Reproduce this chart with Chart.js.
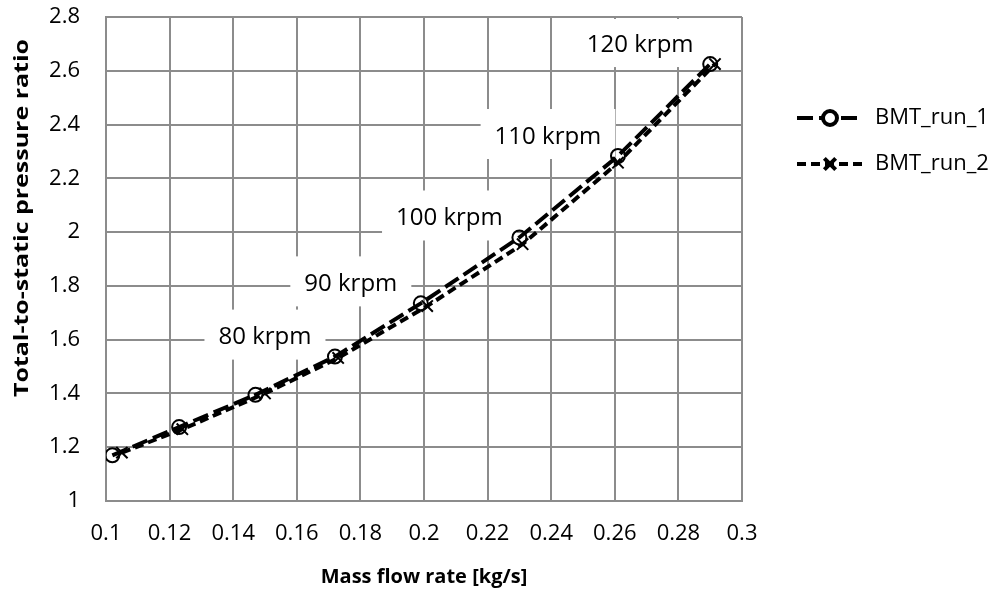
<!DOCTYPE html>
<html>
<head>
<meta charset="utf-8">
<script src="https://cdn.jsdelivr.net/npm/chart.js@4.4.0/dist/chart.umd.min.js"></script>
<style>
  body { margin: 0; background: #fff; }
  #wrap { width: 996px; height: 597px; }
</style>
</head>
<body>
<div id="wrap"><canvas id="chart" width="996" height="597"></canvas></div>
<script>
// values
const run1_flow = [0.102, 0.123, 0.147, 0.172, 0.199, 0.230, 0.261, 0.290];
const run1_ratio = [1.17, 1.275, 1.395, 1.537, 1.735, 1.98, 2.283, 2.625];
const run2_flow = [0.105, 0.124, 0.150, 0.173, 0.201, 0.231, 0.261, 0.2915];
const run2_ratio = [1.18, 1.267, 1.40, 1.532, 1.725, 1.955, 2.258, 2.625];
const speed_labels = ['', '', '', '80 krpm', '90 krpm', '100 krpm', '110 krpm', '120 krpm'];
const x_ticks = [0.1, 0.12, 0.14, 0.16, 0.18, 0.2, 0.22, 0.24, 0.26, 0.28, 0.3];
const y_ticks = [1, 1.2, 1.4, 1.6, 1.8, 2, 2.2, 2.4, 2.6, 2.8];
const series_names = ['BMT_run_1', 'BMT_run_2'];
const y_title = 'Total-to-static pressure ratio';

const FONT = "'Open Sans', sans-serif";
const GRID = '#8c8c8c';

function toPoints(xs, ys) {
    return xs.map((x, i) => ({ x: x, y: ys[i] }));
}

// white boxed speed labels, left-above the run_1 points
const speedLabels = {
    id: 'speedLabels',
    beforeDatasetsDraw: (chart) => {
        const ctx = chart.ctx;
        const meta = chart.getDatasetMeta(0);
        const area = chart.chartArea;
        ctx.save();
        ctx.font = '24px ' + FONT;
        ctx.textAlign = 'center';
        ctx.textBaseline = 'middle';
        speed_labels.forEach((txt, i) => {
            if (!txt) return;
            const p = meta.data[i];
            const cx = p.x - 70;
            const cy = p.y - 19;
            const w = ctx.measureText(txt).width + 28;
            let top = cy - 28;
            let h = 50;
            if (top < area.top + 2) { h -= area.top + 2 - top; top = area.top + 2; }
            ctx.fillStyle = '#fff';
            ctx.fillRect(cx - w / 2, top, w, h);
            ctx.fillStyle = '#000';
            ctx.fillText(txt, cx, cy);
        });
        ctx.restore();
    }
};

// y title: drawn by hand because it is stretched along its length in the original
const yTitle = {
    id: 'yTitle',
    afterDraw: (chart) => {
        const ctx = chart.ctx;
        ctx.save();
        ctx.translate(22, 218);
        ctx.rotate(-Math.PI / 2);
        ctx.font = 'bold 20px ' + FONT;
        const w = ctx.measureText(y_title).width;
        ctx.scale(358 / w, 1);
        ctx.fillStyle = '#000';
        ctx.textAlign = 'center';
        ctx.textBaseline = 'middle';
        ctx.fillText(y_title, 0, 0);
        ctx.restore();
    }
};

// legend on the right: line sample + marker + name
const sideLegend = {
    id: 'sideLegend',
    afterDraw: (chart) => {
        const ctx = chart.ctx;
        ctx.save();
        chart.data.datasets.forEach((ds, i) => {
            const y = 118 + i * 46;
            ctx.strokeStyle = '#000';
            ctx.lineWidth = ds.borderWidth;
            ctx.setLineDash(ds.borderDash);
            ctx.beginPath();
            ctx.moveTo(797, y);
            ctx.lineTo(862, y);
            ctx.stroke();
            ctx.setLineDash([]);
            ctx.fillStyle = '#fff';
            Chart.helpers.drawPoint(ctx, {
                pointStyle: ds.pointStyle,
                radius: ds.pointRadius,
                borderWidth: ds.pointBorderWidth
            }, 830, y);
            ctx.fillStyle = '#000';
            ctx.font = '22px ' + FONT;
            ctx.textAlign = 'left';
            ctx.textBaseline = 'middle';
            ctx.fillText(ds.label, 875, y);
        });
        ctx.restore();
    }
};

new Chart(document.getElementById('chart').getContext('2d'), {
    type: 'line',
    data: {
        datasets: [{
            label: series_names[0],
            data: toPoints(run1_flow, run1_ratio),
            borderColor: '#000',
            borderWidth: 4,
            borderDash: [16, 6],
            pointStyle: 'circle',
            pointRadius: 7,
            pointBorderWidth: 2,
            pointBorderColor: '#000',
            pointBackgroundColor: 'rgba(0,0,0,0)',
            tension: 0
        }, {
            label: series_names[1],
            data: toPoints(run2_flow, run2_ratio),
            borderColor: '#000',
            borderWidth: 4,
            borderDash: [9, 5],
            pointStyle: 'crossRot',
            pointRadius: 8,
            pointBorderWidth: 2,
            pointBorderColor: '#000',
            pointBackgroundColor: 'rgba(0,0,0,0)',
            tension: 0
        }]
    },
    options: {
        responsive: false,
        animation: false,
        layout: { padding: { left: 0, top: 17, right: 254, bottom: 0 } },
        scales: {
            x: {
                type: 'linear',
                min: 0.1,
                max: 0.3,
                afterBuildTicks: axis => { axis.ticks = x_ticks.map(v => ({ value: v })); },
                afterFit: axis => { axis.height = 96; },
                grid: { color: GRID, lineWidth: 2, drawTicks: false },
                border: { color: GRID, width: 2 },
                ticks: {
                    color: '#000',
                    font: { family: FONT, size: 22 },
                    padding: 20,
                    maxRotation: 0,
                    autoSkip: false,
                    callback: v => String(v)
                },
                title: {
                    display: true,
                    text: 'Mass flow rate [kg/s]',
                    color: '#000',
                    font: { family: FONT, size: 20, weight: 'bold' },
                    padding: { top: 0, bottom: 8 }
                }
            },
            y: {
                type: 'linear',
                min: 1,
                max: 2.8,
                afterBuildTicks: axis => { axis.ticks = y_ticks.map(v => ({ value: v })); },
                afterFit: axis => { axis.width = 106; },
                grid: { color: GRID, lineWidth: 2, drawTicks: true, tickLength: 26, tickColor: 'rgba(0,0,0,0)' },
                border: { color: GRID, width: 2 },
                ticks: {
                    color: '#000',
                    font: { family: FONT, size: 22 },
                    padding: 0,
                    autoSkip: false,
                    callback: v => String(v)
                }
            }
        },
        plugins: {
            legend: { display: false },
            tooltip: { enabled: false }
        }
    },
    plugins: [speedLabels, yTitle, sideLegend]
});
</script>
</body>
</html>
